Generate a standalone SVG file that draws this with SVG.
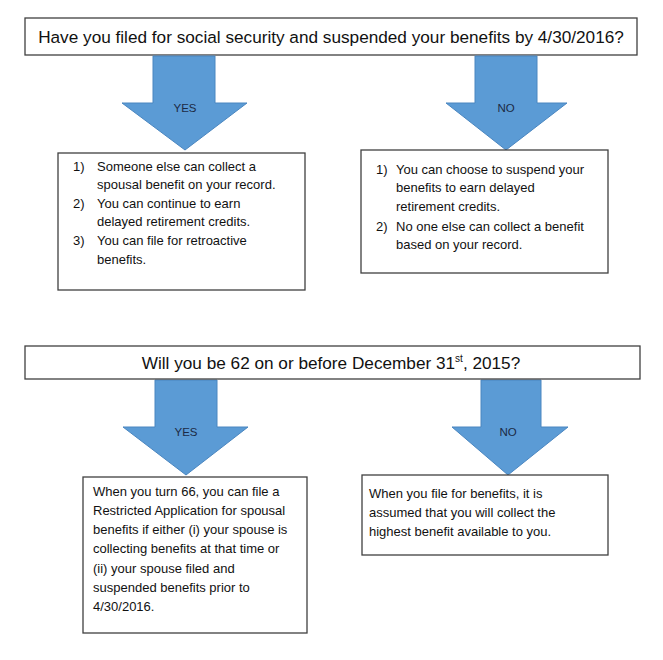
<svg xmlns="http://www.w3.org/2000/svg" width="663" height="660" viewBox="0 0 663 660">
<style>
.box{fill:#fff;stroke:#404040;stroke-width:1.3}
.arr{fill:#5b9bd5;stroke:#4a86c0;stroke-width:1}
.t{font-family:"Liberation Sans",Arial,sans-serif;fill:#111}
.h{font-size:17.2px;text-anchor:middle}
.s{font-size:13px}
.lab{font-family:"Liberation Sans",Arial,sans-serif;font-size:11.5px;fill:#1b2a44;text-anchor:middle}
</style>
<rect width="663" height="660" fill="#fff"/>
<g id="q1"><rect class="box" x="25" y="18" width="612" height="37"/>
<text class="t h" x="331" y="43">Have you filed for social security and suspended your benefits by 4/30/2016?</text></g>
<g id="connectors">
<polygon class="arr" points="153,56 215,56 215,103 247,103 185,150 122,103 153,103"/>
<polygon class="arr" points="475,56 537,56 537,103 567,103 506,150 446,103 475,103"/>
<polygon class="arr" points="155,380 217,380 217,427 248,427 186,475 123,427 155,427"/>
<polygon class="arr" points="481,380 541,380 541,427 568,427 508,475 452,427 481,427"/>
<text class="lab" x="185" y="112">YES</text>
<text class="lab" x="506" y="112">NO</text>
<text class="lab" x="186" y="436">YES</text>
<text class="lab" x="508" y="436">NO</text>
</g>
<g id="yes1"><rect class="box" x="58" y="153" width="247" height="137"/>
<text class="t s"><tspan x="73" y="171">1)</tspan><tspan x="97" y="171">Someone else can collect a</tspan>
<tspan x="97" y="189">spousal benefit on your record.</tspan>
<tspan x="73" y="208">2)</tspan><tspan x="97" y="208">You can continue to earn</tspan>
<tspan x="97" y="226">delayed retirement credits.</tspan>
<tspan x="73" y="245">3)</tspan><tspan x="97" y="245">You can file for retroactive</tspan>
<tspan x="97" y="264">benefits.</tspan></text></g>
<g id="no1"><rect class="box" x="361" y="150" width="247" height="123"/>
<text class="t s"><tspan x="376" y="174">1)</tspan><tspan x="396" y="174">You can choose to suspend your</tspan>
<tspan x="396" y="192">benefits to earn delayed</tspan>
<tspan x="396" y="211">retirement credits.</tspan>
<tspan x="376" y="231">2)</tspan><tspan x="396" y="231">No one else can collect a benefit</tspan>
<tspan x="396" y="249">based on your record.</tspan></text></g>
<g id="q2"><rect class="box" x="25" y="346" width="615" height="33"/>
<text class="t h" x="331" y="369">Will you be 62 on or before December 31<tspan font-size="10" dy="-7">st</tspan><tspan dy="7">, 2015?</tspan></text></g>
<g id="yes2"><rect class="box" x="83" y="477" width="224" height="156"/>
<text class="t s"><tspan x="93" y="496">When you turn 66, you can file a</tspan>
<tspan x="93" y="515">Restricted Application for spousal</tspan>
<tspan x="93" y="534">benefits if either (i) your spouse is</tspan>
<tspan x="93" y="553">collecting benefits at that time or</tspan>
<tspan x="93" y="573">(ii) your spouse filed and</tspan>
<tspan x="93" y="592">suspended benefits prior to</tspan>
<tspan x="93" y="611">4/30/2016.</tspan></text></g>
<g id="no2"><rect class="box" x="362" y="475" width="246" height="80"/>
<text class="t s"><tspan x="369" y="498">When you file for benefits, it is</tspan>
<tspan x="369" y="517">assumed that you will collect the</tspan>
<tspan x="369" y="536">highest benefit available to you.</tspan></text></g>
</svg>
